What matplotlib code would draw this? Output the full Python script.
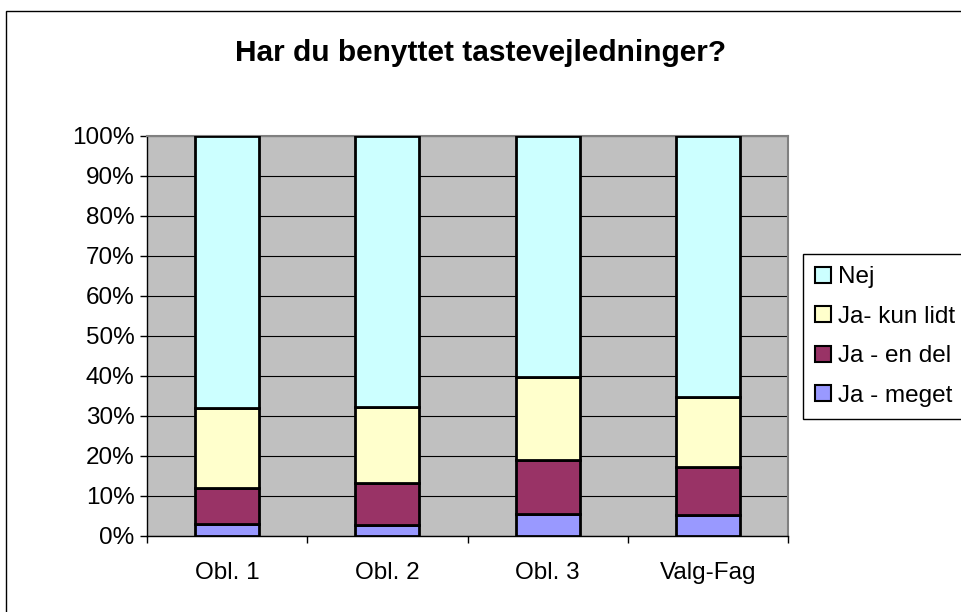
import matplotlib.pyplot as plt
import numpy as np
from matplotlib.patches import Rectangle, Patch

plt.rcParams['font.family'] = ['Liberation Sans', 'DejaVu Sans']

# data (percent per segment, bottom to top)
categories = ["Obl. 1", "Obl. 2", "Obl. 3", "Valg-Fag"]
ja_meget = [3.0, 2.8, 5.4, 5.2]
ja_en_del = [9.0, 10.4, 13.6, 12.1]
ja_kun_lidt = [20.0, 19.1, 20.8, 17.5]
nej = [68.0, 67.7, 60.2, 65.2]

series = [("Ja - meget", ja_meget, "#9999FF"),
          ("Ja - en del", ja_en_del, "#993366"),
          ("Ja- kun lidt", ja_kun_lidt, "#FFFFCC"),
          ("Nej", nej, "#CCFFFF")]

fig = plt.figure(figsize=(9.61, 6.12), dpi=100)
W, H = 961, 612

# outer chart frame (runs off the right/bottom edge)
fig.patches.append(Rectangle((6 / W, -0.05), 1.0, 1 - 11 / H + 0.05,
                             transform=fig.transFigure, fill=False,
                             edgecolor="black", linewidth=1))

ax = fig.add_axes([147 / W, (H - 536) / H, (788 - 147) / W, (536 - 136) / H])
ax.set_facecolor("#C0C0C0")

x = np.arange(len(categories))
bottom = np.zeros(len(categories))
for name, vals, col in series:
    ax.bar(x, vals, width=0.4, bottom=bottom, color=col,
           edgecolor="black", linewidth=2, zorder=3)
    bottom += np.array(vals)

ax.set_xlim(-0.5, len(categories) - 0.5)
ax.set_ylim(0, 100)
ax.set_yticks(np.arange(0, 101, 10))
ax.set_yticklabels([f"{v}%" for v in range(0, 101, 10)], fontsize=17.5)
ax.yaxis.grid(True, color="black", linewidth=0.8, zorder=0)
ax.set_axisbelow(True)

ax.set_xticks(x)
ax.set_xticklabels(categories, fontsize=17.5)
ax.tick_params(axis="x", length=0, pad=19)
ax.set_xticks(np.arange(-0.5, len(categories)), minor=True)
ax.tick_params(axis="x", which="minor", length=5, direction="out", width=1)
ax.tick_params(axis="y", length=5, direction="out", width=1, pad=4)

for s in ["top", "right"]:
    ax.spines[s].set_color("#808080")
    ax.spines[s].set_linewidth(1.5)
ax.spines["left"].set_linewidth(1)
ax.spines["bottom"].set_linewidth(1)

fig.text(0.5, 1 - 53 / H, "Har du benyttet tastevejledninger?",
         ha="center", va="center", fontsize=21.5, fontweight="bold")

handles = [Patch(facecolor=col, edgecolor="black", linewidth=1.5, label=name)
           for name, vals, col in series[::-1]]
leg = fig.legend(handles=handles, loc="upper left",
                 bbox_to_anchor=(803 / W, 1 - 254 / H), fontsize=17.5,
                 handlelength=0.65, handleheight=0.65, handletextpad=0.3,
                 labelspacing=0.72, borderpad=0.5, borderaxespad=0,
                 fancybox=False, framealpha=1)
leg.get_frame().set_edgecolor("black")
leg.get_frame().set_linewidth(1)

fig.savefig("out.png", dpi=100)
